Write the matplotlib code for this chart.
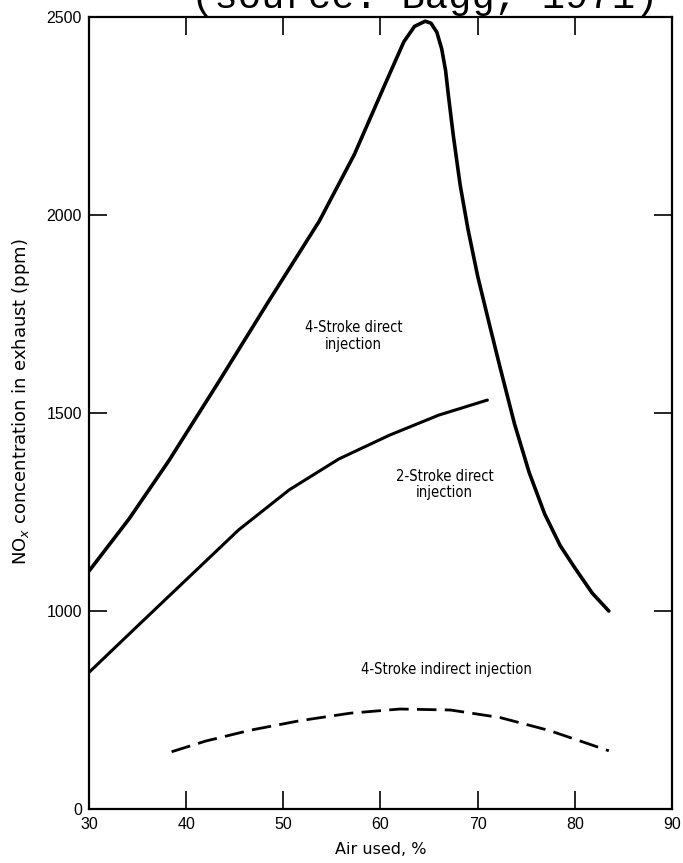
import numpy as np
import matplotlib
matplotlib.use("Agg")
import matplotlib.pyplot as plt

# ---- data (ppm; the axis is broken/compressed between 0 and 1000) ----
x_4sd = [30, 34.1, 38.2, 43.4, 48.5, 53.7, 57.3, 60.4, 62.4, 63.5, 64.6,
         65.2, 65.8, 66.3, 66.7, 67.0, 67.5, 68.2, 69.0, 70.0, 71.2, 72.3, 73.8, 75.3, 76.9, 78.5, 80.0,
         81.8, 83.5]
y_4sd = [1101, 1232, 1379, 1581, 1783, 1985, 2153, 2327, 2438, 2477, 2490,
         2485, 2462, 2420, 2365, 2300, 2200, 2076, 1965, 1846, 1725, 1616, 1472, 1350, 1245, 1165, 1109,
         1045, 1000]

x_2sd = [30, 35.2, 40.3, 45.4, 50.6, 55.7, 60.9, 66.0, 71.0]
y_2sd = [690, 934, 1086, 1205, 1306, 1384, 1444, 1495, 1533]

x_4si = [38.5, 42, 46.6, 51.7, 56.9, 62, 67.2, 72.3, 77.4, 83.5]
y_4si = [289, 343, 398, 446, 484, 505, 500, 462, 396, 294]

x_ticks = [30, 40, 50, 60, 70, 80, 90]
y_ticks = [0, 1000, 1500, 2000, 2500]
y_ticklabels = ["0", "1000", "1500", "2000", "2500"]


def fwd(y):
    y = np.asarray(y, dtype=float)
    return np.where(y >= 1000, y, 500 + y / 2.0)


def inv(v):
    v = np.asarray(v, dtype=float)
    return np.where(v >= 1000, v, (v - 500) * 2.0)


fig = plt.figure(figsize=(6.83, 8.63), dpi=100)
ax = fig.add_axes([0.1303, 0.0626, 0.8536, 0.9174])
ax.set_yscale("function", functions=(fwd, inv))

ax.plot(x_4sd, y_4sd, color="black", lw=2.6, solid_capstyle="round", solid_joinstyle="round")
ax.plot(x_2sd, y_2sd, color="black", lw=2.2, solid_capstyle="round", solid_joinstyle="round")
ax.plot(x_4si, y_4si, color="black", lw=2.0, dashes=(7, 3))

ax.set_xlim(30, 90)
ax.set_ylim(0, 2500)
ax.set_xticks(x_ticks)
ax.set_yticks(y_ticks)
ax.set_yticklabels(y_ticklabels)
ax.minorticks_off()

ax.tick_params(direction="in", length=13, width=1.2, labelsize=11.5, top=True, right=True,
               labeltop=False, labelright=False)
ax.tick_params(axis="x", pad=6)
ax.tick_params(axis="y", pad=5)
for lab in ax.get_xticklabels() + ax.get_yticklabels():
    lab.set_family("Liberation Sans")
for s in ax.spines.values():
    s.set_linewidth(1.6)

ax.set_xlabel("Air used, %", fontsize=11.5, family="DejaVu Sans", labelpad=7)
ax.set_ylabel("NO$_x$ concentration in exhaust (ppm)", fontsize=13, family="DejaVu Sans")
ax.yaxis.set_label_coords(-0.098, 0.515)

lab_kw = dict(fontsize=10.5, family="DejaVu Sans", stretch="condensed", ha="center", va="center",
              linespacing=1.1)
ax.text(57.2, 1695, "4-Stroke direct\ninjection", **lab_kw)
ax.text(66.6, 1320, "2-Stroke direct\ninjection", **lab_kw)
ax.text(66.8, 705, "4-Stroke indirect injection", **lab_kw)

fig.text(0.622, 1 - 8 / 863, "(source: Bagg, 1971)", family="Liberation Mono", fontsize=28,
         ha="center", va="baseline")

fig.savefig("out.png", dpi=100)
